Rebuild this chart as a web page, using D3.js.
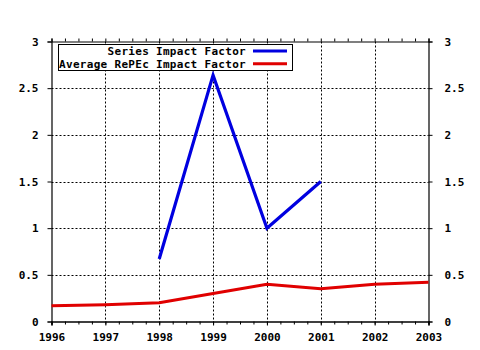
<!DOCTYPE html>
<html>
<head>
<meta charset="utf-8">
<script src="https://cdn.jsdelivr.net/npm/d3@7/dist/d3.min.js"></script>
<style>
  html, body { margin: 0; padding: 0; background: #fff; }
  svg { display: block; }
  text { font-family: "DejaVu Sans Mono", "Liberation Mono", monospace; font-weight: bold; font-size: 11px; fill: #000; }
  .legend text { letter-spacing: 0.3px; }
</style>
</head>
<body>
<svg id="chart" width="480" height="350"></svg>
<script>
// Impact factor by year
const years = [1996, 1997, 1998, 1999, 2000, 2001, 2002, 2003];
const seriesYears = [1998, 1999, 2000, 2001];
const seriesImpact = [0.67, 2.64, 1.0, 1.5];
const averageImpact = [0.17, 0.18, 0.20, 0.30, 0.40, 0.35, 0.40, 0.42];
const yTicks = [0, 0.5, 1, 1.5, 2, 2.5, 3];
const legendLabels = ["Series Impact Factor", "Average RePEc Impact Factor"];
const colors = ["#0000e0", "#e00000"];

const svg = d3.select("#chart");
const plotLeft = 51.5, plotRight = 428.5, plotTop = 41.5, plotBottom = 321.5;

const x = d3.scaleLinear().domain([1996, 2003]).range([plotLeft, plotRight]);
const y = d3.scaleLinear().domain([0, 3]).range([plotBottom, plotTop]);

// dotted grid
const grid = svg.append("g").attr("stroke", "#000").attr("stroke-width", 1).attr("stroke-dasharray", "2,2");
grid.selectAll("line.v").data(years.slice(1, -1)).join("line")
  .attr("x1", d => Math.round(x(d)) + 0.5).attr("x2", d => Math.round(x(d)) + 0.5)
  .attr("y1", plotTop).attr("y2", plotBottom);
grid.selectAll("line.h").data(yTicks.slice(1, -1)).join("line")
  .attr("y1", d => Math.round(y(d)) + 0.5).attr("y2", d => Math.round(y(d)) + 0.5)
  .attr("x1", plotLeft).attr("x2", plotRight);

// axes: quarter-year minor ticks top and bottom, labelled ticks on all sides
const minor = d3.range(1996, 2003.001, 0.25);
const fmtY = d => d3.format("")(d);

svg.append("g").attr("transform", `translate(0,${plotBottom})`)
  .call(d3.axisBottom(x).tickValues(minor).tickSize(3).tickFormat(""));
svg.append("g").attr("transform", `translate(0,${plotTop})`)
  .call(d3.axisTop(x).tickValues(minor).tickSize(3).tickFormat(""));
svg.append("g").attr("transform", `translate(0,${plotBottom})`)
  .call(d3.axisBottom(x).tickValues(years).tickSize(4).tickPadding(8).tickFormat(d3.format("d")));
svg.append("g").attr("transform", `translate(${plotLeft},0)`)
  .call(d3.axisLeft(y).tickValues(yTicks).tickSize(4).tickPadding(9).tickFormat(fmtY));
svg.append("g").attr("transform", `translate(${plotRight},0)`)
  .call(d3.axisRight(y).tickValues(yTicks).tickSize(4).tickPadding(12).tickFormat(fmtY));

svg.selectAll(".domain").attr("stroke", "#000").attr("stroke-width", 1.2);
svg.selectAll(".tick line").attr("stroke", "#000");
svg.selectAll("g[font-family]").attr("font-family", null).attr("font-size", null);

// data lines
const line = d3.line().x(d => x(d[0])).y(d => y(d[1]));
svg.append("path").datum(years.map((yr, i) => [yr, averageImpact[i]]))
  .attr("d", line).attr("fill", "none").attr("stroke", colors[1]).attr("stroke-width", 3);
svg.append("path").datum(seriesYears.map((yr, i) => [yr, seriesImpact[i]]))
  .attr("d", line).attr("fill", "none").attr("stroke", colors[0]).attr("stroke-width", 3.2)
  .attr("stroke-linejoin", "miter");

// legend
const lg = svg.append("g").attr("class", "legend");
lg.append("rect").attr("x", 58.5).attr("y", 44.5).attr("width", 234).attr("height", 26)
  .attr("fill", "#fff").attr("stroke", "#000").attr("stroke-width", 1);
legendLabels.forEach((lab, i) => {
  const baseline = 55 + i * 12.7;
  lg.append("text").attr("x", 246).attr("y", baseline)
    .attr("text-anchor", "end").text(lab);
  lg.append("line").attr("x1", 253).attr("x2", 287).attr("y1", baseline - 4).attr("y2", baseline - 4)
    .attr("stroke", colors[i]).attr("stroke-width", 3);
});
</script>
</body>
</html>
